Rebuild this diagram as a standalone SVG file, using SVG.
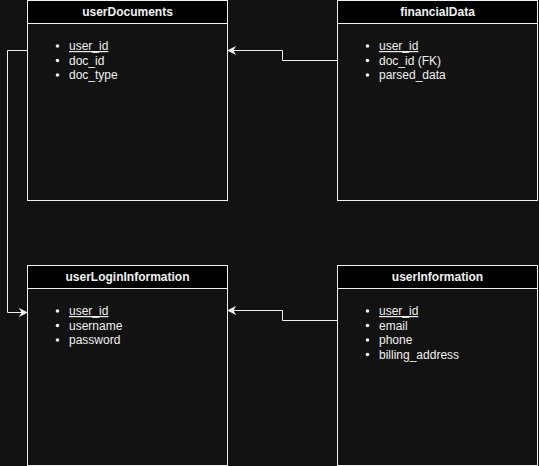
<svg xmlns="http://www.w3.org/2000/svg" width="539" height="466" viewBox="0 0 539 466">
<style>
.box{fill:#121212;stroke:#f0f0f0;stroke-width:1}
.hdr{fill:#000;stroke:#f0f0f0;stroke-width:1}
.t{font-family:"Liberation Sans",Arial,sans-serif;font-size:12px;fill:#f0f0f0}
.h{text-anchor:middle;font-weight:bold}
.u{text-decoration:underline}
.c{fill:none;stroke:#f0f0f0;stroke-width:1}
</style>
<defs>
<marker id="arr" viewBox="0 0 10 10" refX="9" refY="5" markerWidth="9" markerHeight="9" markerUnits="userSpaceOnUse" orient="auto">
<path d="M0,0 L10,5 L0,10 L3,5 Z" fill="#f0f0f0"/>
</marker>
</defs>
<rect width="539" height="466" fill="#121212"/>
<g id="userDocuments">
<rect class="box" x="27.5" y="0.5" width="200" height="200"/>
<rect class="hdr" x="27.5" y="0.5" width="200" height="23"/>
<text class="t h" x="127.5" y="15.5">userDocuments</text>
<circle cx="57.5" cy="46" r="1.8" fill="#f0f0f0"/>
<circle cx="57.5" cy="60.5" r="1.8" fill="#f0f0f0"/>
<circle cx="57.5" cy="75" r="1.8" fill="#f0f0f0"/>
<text class="t u" x="69" y="50">user_id</text>
<text class="t" x="69" y="64.5">doc_id</text>
<text class="t" x="69" y="79">doc_type</text>
</g>
<g id="financialData">
<rect class="box" x="337.5" y="0.5" width="200" height="200"/>
<rect class="hdr" x="337.5" y="0.5" width="200" height="23"/>
<text class="t h" x="437.5" y="15.5">financialData</text>
<circle cx="367.5" cy="46" r="1.8" fill="#f0f0f0"/>
<circle cx="367.5" cy="60.5" r="1.8" fill="#f0f0f0"/>
<circle cx="367.5" cy="75" r="1.8" fill="#f0f0f0"/>
<text class="t u" x="379" y="50">user_id</text>
<text class="t" x="379" y="64.5">doc_id (FK)</text>
<text class="t" x="379" y="79">parsed_data</text>
</g>
<g id="userLoginInformation">
<rect class="box" x="27.5" y="265.5" width="200" height="200"/>
<rect class="hdr" x="27.5" y="265.5" width="200" height="23"/>
<text class="t h" x="127.5" y="281">userLoginInformation</text>
<circle cx="57.5" cy="311" r="1.8" fill="#f0f0f0"/>
<circle cx="57.5" cy="325.5" r="1.8" fill="#f0f0f0"/>
<circle cx="57.5" cy="340" r="1.8" fill="#f0f0f0"/>
<text class="t u" x="69" y="315">user_id</text>
<text class="t" x="69" y="329.5">username</text>
<text class="t" x="69" y="344">password</text>
</g>
<g id="userInformation">
<rect class="box" x="337.5" y="265.5" width="200" height="200"/>
<rect class="hdr" x="337.5" y="265.5" width="200" height="23"/>
<text class="t h" x="437.5" y="281">userInformation</text>
<circle cx="367.5" cy="311" r="1.8" fill="#f0f0f0"/>
<circle cx="367.5" cy="325.5" r="1.8" fill="#f0f0f0"/>
<circle cx="367.5" cy="340" r="1.8" fill="#f0f0f0"/>
<circle cx="367.5" cy="354.5" r="1.8" fill="#f0f0f0"/>
<text class="t u" x="379" y="315">user_id</text>
<text class="t" x="379" y="329.5">email</text>
<text class="t" x="379" y="344">phone</text>
<text class="t" x="379" y="358.5">billing_address</text>
</g>
<g id="connectors">
<path class="c" d="M337.5,60.5 H282.5 V50.5 H228" marker-end="url(#arr)"/>
<path class="c" d="M337.5,320.5 H282.5 V310.5 H228" marker-end="url(#arr)"/>
<path class="c" d="M27.5,50.5 H7.5 V312.5 H27" marker-end="url(#arr)"/>
</g>
</svg>
